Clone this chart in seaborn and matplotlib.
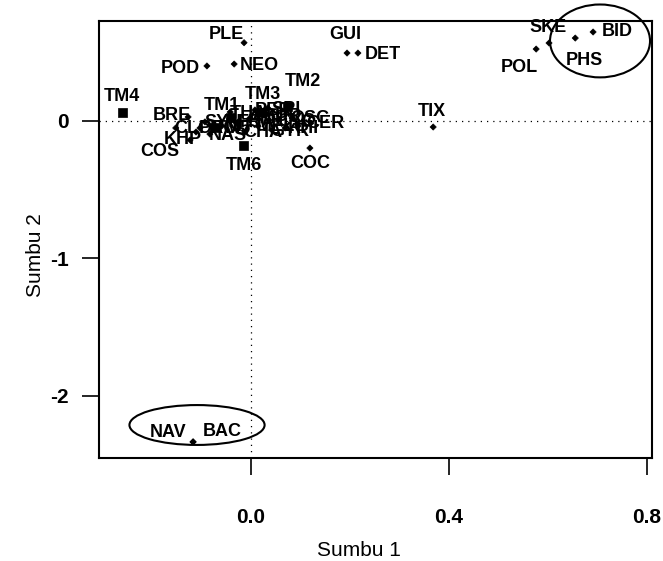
import matplotlib
matplotlib.use("Agg")
import matplotlib.pyplot as plt
from matplotlib.patches import Ellipse
import seaborn as sns
import pandas as pd

# ---------------- data ----------------
labels = ["PLE", "NEO", "POD", "TM4", "TM6", "COC", "TIX", "GUI", "DET",
          "POL", "SKE", "BID", "PHS", "NAV", "BAC", "TM2", "TM3", "CER",
          "COS", "KHP", "BRE", "TM1", "TM5", "SYN", "NIT", "FRA", "AMP",
          "MEL", "SUR", "GYR", "CYC", "RHI", "CHA", "THA", "NAS", "OSC",
          "SPI", "PER", "PRO", "CLO"]
sumbu1 = [-0.014, -0.034, -0.089, -0.259, -0.016, 0.119, 0.368, 0.194, 0.216,
          0.576, 0.655, 0.691, 0.602, -0.117, -0.117, 0.073, 0.022, 0.095,
          -0.123, -0.111, -0.127, -0.042, -0.073, -0.093, -0.059, -0.026, -0.002,
          0.014, 0.028, 0.042, 0.055, 0.069, -0.012, -0.042, -0.083, 0.083,
          0.034, 0.008, -0.103, -0.152]
sumbu2 = [0.567, 0.412, 0.398, 0.063, -0.184, -0.199, -0.046, 0.492, 0.492,
          0.521, 0.601, 0.645, 0.565, -2.336, -2.336, 0.100, 0.063, -0.038,
          -0.140, -0.082, 0.027, 0.020, -0.053, -0.009, -0.038, -0.009, 0.020,
          -0.038, 0.041, -0.068, 0.005, -0.053, -0.082, 0.063, -0.097, 0.020,
          0.092, 0.078, -0.053, -0.053]
kind = ["taksa", "taksa", "taksa", "stasiun", "stasiun", "taksa", "taksa", "taksa", "taksa",
        "taksa", "taksa", "taksa", "taksa", "taksa", "taksa", "stasiun", "stasiun", "taksa",
        "taksa", "taksa", "taksa", "stasiun", "stasiun", "taksa", "taksa", "taksa", "taksa",
        "taksa", "taksa", "taksa", "taksa", "taksa", "taksa", "taksa", "taksa", "taksa",
        "taksa", "taksa", "taksa", "taksa"]
x_ticks = [0.0, 0.4, 0.8]
x_ticklabels = ["0.0", "0.4", "0.8"]
y_ticks = [0, -1, -2]
y_ticklabels = ["0", "-1", "-2"]

# label offsets (pixels, label centre relative to point)
label_offset = {
    "PLE": (-18, 8), "NEO": (25, -1), "POD": (-27, -3), "TM4": (-1, 16),
    "TM6": (1, -20), "COC": (0, -15), "TIX": (-1, 16), "GUI": (-2, 19),
    "DET": (25, -1), "POL": (-17, -18), "SKE": (-27, 11), "BID": (24, 1),
    "PHS": (35, -17), "NAV": (-25, 9), "BAC": (29, 10), "TM2": (16, 25),
    "TM3": (1, 18), "CER": (27, 2), "COS": (-30, -12), "KHP": (-13, -8),
    "BRE": (-16, 1), "TM1": (-8, 12),
}
default_offset = (18, -1)

df = pd.DataFrame({"label": labels, "sumbu1": sumbu1, "sumbu2": sumbu2, "kind": kind})

# ---------------- style ----------------
sns.set_theme(style="ticks")
plt.rcParams["font.family"] = ["Liberation Sans", "DejaVu Sans"]
plt.rcParams["axes.unicode_minus"] = False

W, H = 663, 561
fig = plt.figure(figsize=(W / 100, H / 100), dpi=100)
ax = fig.add_axes([99 / W, 1 - 458 / H, 553 / W, 437 / H])

ax.axhline(0, color="black", lw=0.9, ls=(0, (1, 4)), zorder=1)
ax.axvline(0, color="black", lw=0.9, ls=(0, (1, 4)), zorder=1)

sns.scatterplot(data=df, x="sumbu1", y="sumbu2", style="kind",
                markers={"taksa": "D", "stasiun": "s"},
                size="kind", sizes={"taksa": 10, "stasiun": 42},
                color="black", edgecolor="black", linewidth=0.5,
                legend=False, ax=ax, zorder=3)

for lab, xv, yv in zip(labels, sumbu1, sumbu2):
    dx, dy = label_offset.get(lab, default_offset)
    ax.annotate(lab, (xv, yv), xytext=(dx, dy), textcoords="offset pixels",
                ha="center", va="center", fontsize=13, fontweight="bold",
                color="black", zorder=4)

# ellipses highlighting groups
ax.add_patch(Ellipse((-0.109, -2.213), 0.273, 0.29, fill=False,
                     edgecolor="black", lw=1.5, clip_on=False, zorder=5))
ax.add_patch(Ellipse((0.705, 0.58), 0.202, 0.53, fill=False,
                     edgecolor="black", lw=1.5, clip_on=False, zorder=5))

ax.set_xlim(-0.307, 0.810)
ax.set_ylim(-2.453, 0.725)
ax.set_xticks(x_ticks)
ax.set_xticklabels(x_ticklabels, fontweight="bold")
ax.set_yticks(y_ticks)
ax.set_yticklabels(y_ticklabels, fontweight="bold")
ax.tick_params(axis="both", direction="out", length=12, width=1.2,
               labelsize=15, color="black", labelcolor="black")
ax.tick_params(axis="x", pad=24)
ax.tick_params(axis="y", pad=10)

for s in ax.spines.values():
    s.set_visible(True)
    s.set_color("black")
    s.set_linewidth(1.5)

ax.set_xlabel("Sumbu 1", fontsize=15, color="black")
ax.set_ylabel("Sumbu 2", fontsize=15, color="black")
ax.xaxis.set_label_coords((359 - 99) / 553, -0.19)
ax.yaxis.set_label_coords(-0.098, 1 - (255 - 21) / 437)

fig.savefig("out.png", dpi=100)
